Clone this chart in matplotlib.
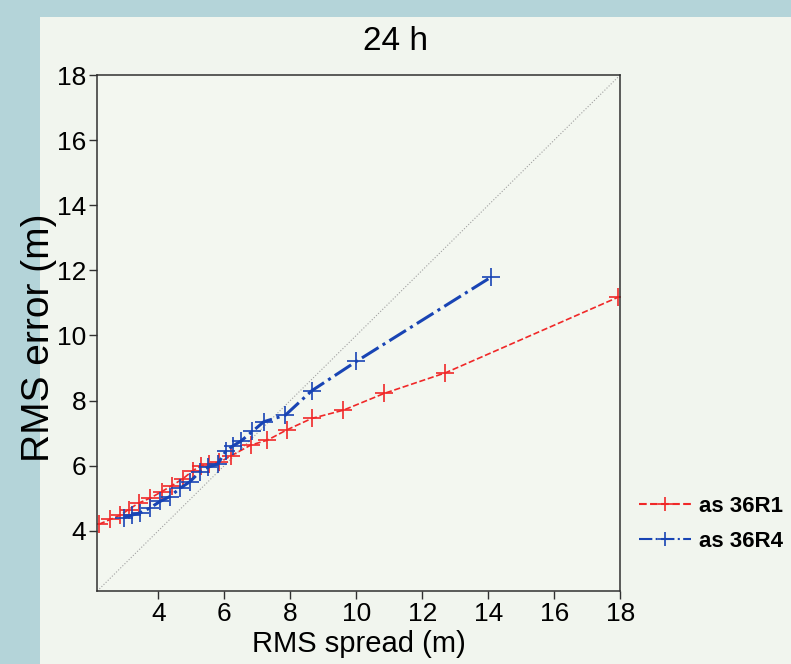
import matplotlib
matplotlib.use("Agg")
from matplotlib import pyplot as plt
from matplotlib.patches import Rectangle

# RMS spread / RMS error pairs (metres)
r1_spread = [2.2, 2.55, 2.85, 3.1, 3.4, 3.75, 4.1, 4.4, 4.75, 5.05, 5.3, 5.55,
             5.85, 6.2, 6.8, 7.3, 7.9, 8.65, 9.6, 10.85, 12.7, 17.95]
r1_error = [4.2, 4.35, 4.48, 4.65, 4.85, 5.0, 5.2, 5.38, 5.6, 5.85, 6.0, 6.05,
            6.1, 6.3, 6.63, 6.78, 7.1, 7.45, 7.7, 8.22, 8.85, 11.18]

r4_spread = [2.95, 3.2, 3.45, 3.75, 4.05, 4.35, 4.65, 4.95, 5.25, 5.5, 5.8,
             6.05, 6.25, 6.5, 6.85, 7.2, 7.85, 8.65, 10.0, 14.1]
r4_error = [4.4, 4.48, 4.55, 4.7, 4.9, 5.05, 5.3, 5.5, 5.8, 5.95, 6.05,
            6.45, 6.6, 6.75, 7.05, 7.35, 7.55, 8.3, 9.2, 11.8]

ticks = [4, 6, 8, 10, 12, 14, 16, 18]
labels = ["as 36R1", "as 36R4"]

plt.rcParams["font.family"] = ["Liberation Sans", "DejaVu Sans"]

fig = plt.figure(figsize=(7.91, 6.64), dpi=100)
fig.patch.set_facecolor("#b4d4d9")
# paper of the slide, behind everything
paper = Rectangle((0.05, 0.0), 0.95, 0.975, transform=fig.transFigure,
                  facecolor="#f1f5ee", edgecolor="none", zorder=-10)
fig.add_artist(paper)

ax = fig.add_axes([0.123, 0.110, 0.661, 0.777])
ax.set_facecolor("#f3f7f0")

lo, hi = 2.15, 18
ax.plot([lo, hi], [lo, hi], linestyle=":", color="#a0a0a0", linewidth=0.8)

ax.plot(r1_spread, r1_error, linestyle="--", color="#f02828", linewidth=1.2,
        marker="+", markersize=13, markeredgewidth=1.2, label=labels[0])
ax.plot(r4_spread, r4_error, linestyle="-.", color="#1844b4", linewidth=2.2,
        marker="+", markersize=13, markeredgewidth=1.2, label=labels[1])

ax.set_xlim(lo, hi)
ax.set_ylim(lo, hi)
ax.set_xticks(ticks)
ax.set_yticks(ticks)
ax.tick_params(labelsize=19, length=6, width=1, color="#303030", pad=2)
for s in ax.spines.values():
    s.set_color("#303030")
    s.set_linewidth(1.1)

ax.set_xlabel("RMS spread (m)", fontsize=21, labelpad=3)
ax.set_ylabel("RMS error (m)", fontsize=28)
ax.yaxis.set_label_coords(-0.078, 0.49)
fig.text(0.5, 0.937, "24 h", fontsize=24, ha="center", va="center")

leg = ax.legend(loc="center left", bbox_to_anchor=(1.02, 0.13), frameon=False,
                handlelength=2.3, numpoints=1, labelspacing=0.6, borderaxespad=0,
                prop={"size": 16, "weight": "bold"}, handletextpad=0.4)
for h in leg.legend_handles:
    h.set_markersize(10)
    h.set_linewidth(1.5)

fig.savefig("out.png", dpi=100, facecolor=fig.get_facecolor())
